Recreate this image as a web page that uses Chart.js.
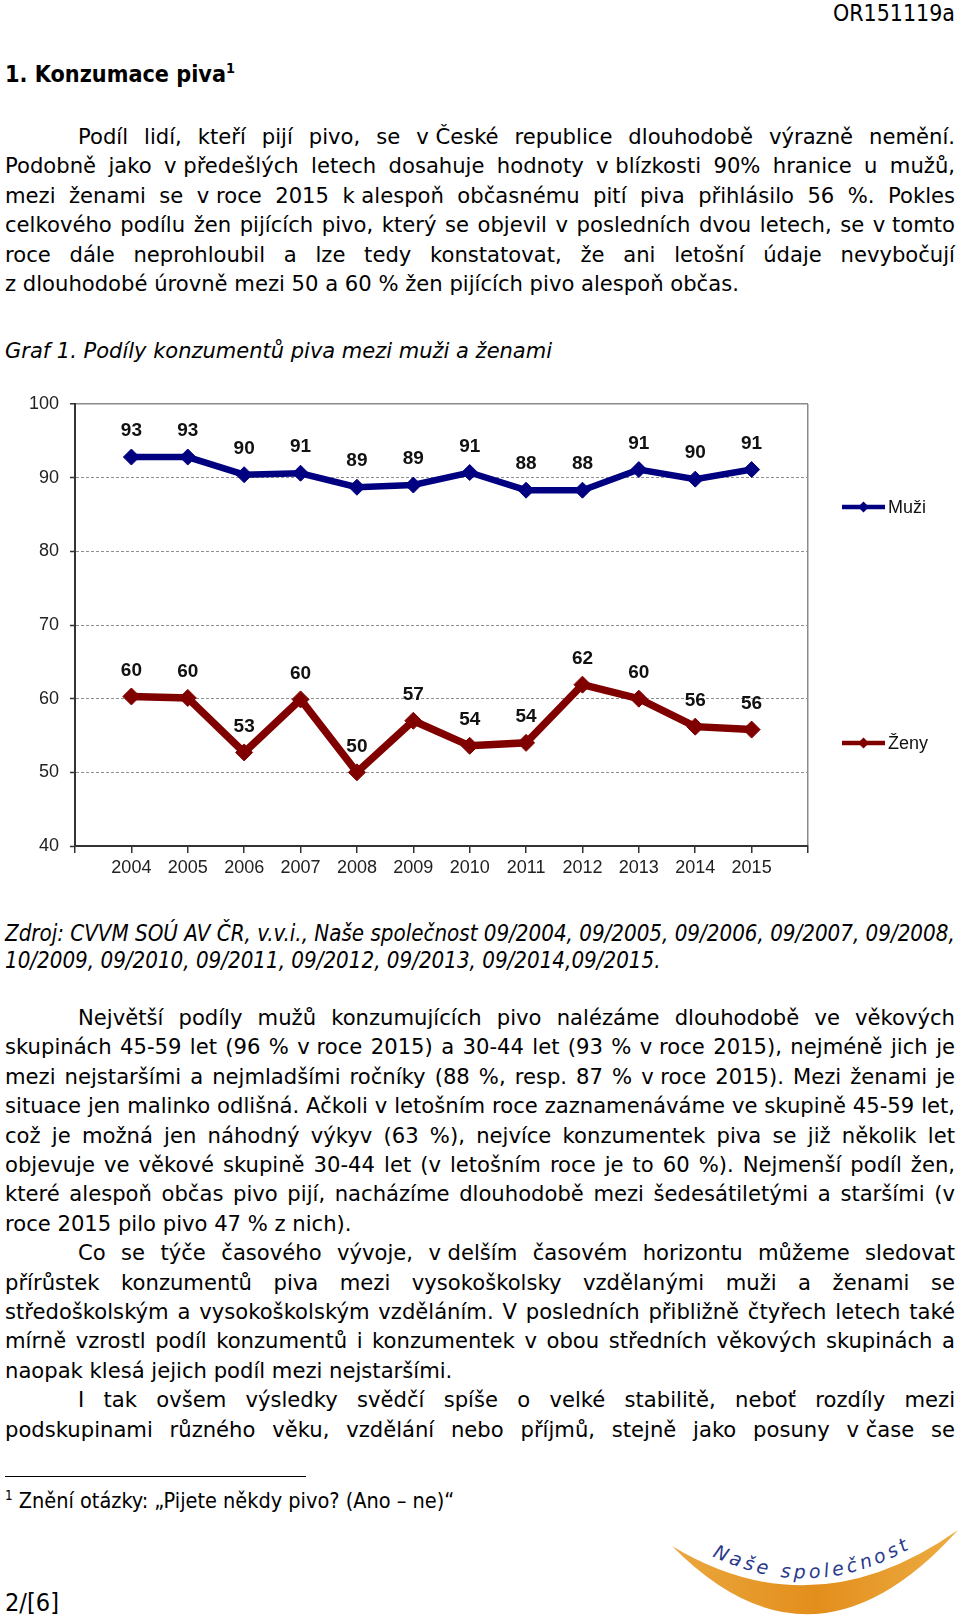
<!DOCTYPE html>
<html lang="cs">
<head>
<meta charset="utf-8">
<script src="https://cdn.jsdelivr.net/npm/chart.js@4.4.1/dist/chart.umd.min.js"></script>
<style>
  html, body { margin: 0; padding: 0; background: #fff; }
  #page { position: relative; width: 960px; height: 1617px; overflow: hidden; background: #fff; color: #000; }
  .abs { position: absolute; }
  .cond { font-family: "DejaVu Sans Condensed", "DejaVu Sans", sans-serif; font-stretch: condensed; }
  .fit { display: inline-block; white-space: nowrap; }
  .body { font-family: "DejaVu Sans", Verdana, sans-serif; font-size: 21px; line-height: 29.4px; left: 5px; width: 950px; }
  .jl { white-space: nowrap; width: 950px; }
  .ind { padding-left: 73px; box-sizing: border-box; }
  .nb { display: inline-block; word-spacing: 0 !important; white-space: pre; }
  sup { font-size: 62%; line-height: 0; vertical-align: 0.6em; }
</style>
</head>
<body>
<div id="page">
  <div class="abs" style="right:5px; top:0px; line-height:26px;"><span class="cond fit" data-w="122" style="font-size:21px;">OR151119a</span></div>
  <div class="abs" style="left:5px; top:59px; line-height:30px;"><span class="cond fit" data-w="230" style="font-size:22px; font-weight:bold;">1. Konzumace piva<sup>1</sup></span></div>

  <div class="abs body" style="top:122px;">
    <div class="jl ind"><span class="t">Podíl lidí, kteří pijí pivo, se <span class="nb">v České</span> republice dlouhodobě výrazně nemění.</span></div>
    <div class="jl"><span class="t">Podobně jako <span class="nb">v předešlých</span> letech dosahuje hodnoty <span class="nb">v blízkosti</span> 90% hranice u mužů,</span></div>
    <div class="jl"><span class="t">mezi ženami se <span class="nb">v roce</span> 2015 <span class="nb">k alespoň</span> občasnému pití piva přihlásilo 56 %. Pokles</span></div>
    <div class="jl"><span class="t">celkového podílu žen pijících pivo, který se objevil v posledních dvou letech, se <span class="nb">v tomto</span></span></div>
    <div class="jl"><span class="t">roce dále neprohloubil a lze tedy konstatovat, že ani letošní údaje nevybočují</span></div>
    <div class="jl nj" id="fitline"><span class="t"><span class="nb">z dlouhodobé</span> úrovně mezi 50 a 60 % žen pijících pivo alespoň občas.</span></div>
  </div>

  <div class="abs" style="left:5px; top:337px; line-height:29px;"><span class="fit" data-w="547" style="font-family:'DejaVu Sans', sans-serif; font-style:italic; font-size:21px;">Graf 1. Podíly konzumentů piva mezi muži a ženami</span></div>

  <canvas id="chart" class="abs" width="960" height="510" style="left:0; top:380px; width:960px; height:510px;"></canvas>

  <div class="abs" style="left:5px; top:921px; line-height:24px; width:955px;">
    <div><span class="cond fit" id="zdroj1" data-w="950" style="font-style:italic; font-size:21px;">Zdroj: CVVM SOÚ AV ČR, v.v.i., Naše společnost 09/2004, 09/2005, 09/2006, 09/2007, 09/2008,</span></div>
    <div><span class="cond fit" data-same="zdroj1" style="font-style:italic; font-size:21px;">10/2009, 09/2010, 09/2011, 09/2012, 09/2013, 09/2014,09/2015.</span></div>
  </div>

  <div class="abs body" style="top:1003px;">
    <div class="jl ind"><span class="t">Největší podíly mužů konzumujících pivo nalézáme dlouhodobě ve věkových</span></div>
    <div class="jl"><span class="t">skupinách 45-59 let (96 % <span class="nb">v roce</span> 2015) a 30-44 let (93 % <span class="nb">v roce</span> 2015), nejméně jich je</span></div>
    <div class="jl"><span class="t">mezi nejstaršími a nejmladšími ročníky (88 %, resp. 87 % <span class="nb">v roce</span> 2015). Mezi ženami je</span></div>
    <div class="jl"><span class="t">situace jen malinko odlišná. Ačkoli v letošním roce zaznamenáváme ve skupině 45-59 let,</span></div>
    <div class="jl"><span class="t">což je možná jen náhodný výkyv (63 %), nejvíce konzumentek piva se již několik let</span></div>
    <div class="jl"><span class="t">objevuje ve věkové skupině 30-44 let (v letošním roce je to 60 %). Nejmenší podíl žen,</span></div>
    <div class="jl"><span class="t">které alespoň občas pivo pijí, nacházíme dlouhodobě mezi šedesátiletými a staršími (v</span></div>
    <div class="jl nj"><span class="t">roce 2015 pilo pivo 47 % z nich).</span></div>
    <div class="jl ind"><span class="t">Co se týče časového vývoje, <span class="nb">v delším</span> časovém horizontu můžeme sledovat</span></div>
    <div class="jl"><span class="t">přírůstek konzumentů piva mezi vysokoškolsky vzdělanými muži a ženami se</span></div>
    <div class="jl"><span class="t">středoškolským a vysokoškolským vzděláním. V posledních přibližně čtyřech letech také</span></div>
    <div class="jl"><span class="t">mírně vzrostl podíl konzumentů i konzumentek v obou středních věkových skupinách a</span></div>
    <div class="jl nj"><span class="t">naopak klesá jejich podíl mezi nejstaršími.</span></div>
    <div class="jl ind"><span class="t">I tak ovšem výsledky svědčí spíše o velké stabilitě, neboť rozdíly mezi</span></div>
    <div class="jl"><span class="t">podskupinami různého věku, vzdělání nebo příjmů, stejně jako posuny <span class="nb">v čase</span> se</span></div>
  </div>

  <div class="abs" style="left:5px; top:1476px; width:301px; height:1px; background:#000;"></div>
  <div class="abs" style="left:5px; top:1489px; line-height:24px;"><span class="cond fit" data-w="449" style="font-size:19px;"><sup>1</sup> Znění otázky: „Pijete někdy pivo? (Ano – ne)“</span></div>
  <div class="abs" style="left:5px; top:1590px; line-height:26px;"><span class="cond fit" data-w="54" style="font-size:22px;">2/[6]</span></div>

  <svg class="abs" style="left:660px; top:1510px;" width="300" height="107" viewBox="0 0 300 107">
    <defs>
      <linearGradient id="og" x1="0" y1="0" x2="1" y2="0">
        <stop offset="0" stop-color="#EBA83E"/>
        <stop offset="0.5" stop-color="#E38E1C"/>
        <stop offset="1" stop-color="#EDAC42"/>
      </linearGradient>
      <path id="tp" d="M52,46 Q155,96 258,34"/>
    </defs>
    <path d="M12,36 Q154,180 298,20 Q154,122 12,36 Z" fill="url(#og)"/>
    <text font-family="'DejaVu Sans', sans-serif" font-style="italic" font-size="19" fill="#2A3A8C" letter-spacing="2">
      <textPath href="#tp" textLength="208">Naše společnost</textPath>
    </text>
  </svg>
</div>

<script>
// ---- data ----
const years = [2004, 2005, 2006, 2007, 2008, 2009, 2010, 2011, 2012, 2013, 2014, 2015];
const seriesNames = ['Muži', 'Ženy'];
const muzi = [92.8, 92.8, 90.4, 90.6, 88.7, 89.0, 90.7, 88.3, 88.3, 91.1, 89.8, 91.1];
const zeny = [60.3, 60.1, 52.7, 59.9, 50.0, 57.0, 53.6, 54.0, 61.9, 60.0, 56.2, 55.8];
const yMin = 40, yMax = 100, yStep = 10;
const xMin = 2003, xMax = 2016;

const FONT = '"Liberation Sans", Arial, sans-serif';

const valueLabels = {
  id: 'valueLabels',
  afterDatasetsDraw(chart) {
    const ctx = chart.ctx;
    ctx.save();
    ctx.font = 'bold 19px ' + FONT;
    ctx.fillStyle = '#111';
    ctx.textAlign = 'center';
    ctx.textBaseline = 'middle';
    chart.data.datasets.forEach((ds, i) => {
      chart.getDatasetMeta(i).data.forEach((pt, j) => {
        ctx.fillText(String(Math.round(ds.data[j].y)), pt.x, pt.y - 26);
      });
    });
    ctx.restore();
  }
};

const sideLegend = {
  id: 'sideLegend',
  afterDraw(chart, args, opts) {
    const ctx = chart.ctx;
    ctx.save();
    chart.data.datasets.forEach((ds, i) => {
      const y = opts.rows[i];
      ctx.strokeStyle = ds.borderColor;
      ctx.lineWidth = 4.5;
      ctx.beginPath();
      ctx.moveTo(opts.x0, y);
      ctx.lineTo(opts.x1, y);
      ctx.stroke();
      const cx = (opts.x0 + opts.x1) / 2;
      ctx.fillStyle = ds.borderColor;
      ctx.beginPath();
      ctx.moveTo(cx, y - 5.5); ctx.lineTo(cx + 5.5, y); ctx.lineTo(cx, y + 5.5); ctx.lineTo(cx - 5.5, y);
      ctx.closePath(); ctx.fill();
      ctx.fillStyle = '#111';
      ctx.font = '18px ' + FONT;
      ctx.textAlign = 'left';
      ctx.textBaseline = 'middle';
      ctx.fillText(ds.label, opts.x1 + 3, y + 1);
    });
    ctx.restore();
  }
};

function makeDs(label, vals, color, width, radius) {
  return {
    label,
    data: years.map((yr, i) => ({ x: yr, y: vals[i] })),
    borderColor: color,
    backgroundColor: color,
    borderWidth: width,
    pointStyle: 'rectRot',
    pointRadius: radius,
    pointBorderWidth: 1,
    pointBackgroundColor: color,
    pointBorderColor: color,
    tension: 0
  };
}

new Chart(document.getElementById('chart'), {
  type: 'line',
  data: {
    datasets: [
      makeDs(seriesNames[0], muzi, '#000080', 6.5, 8),
      makeDs(seriesNames[1], zeny, '#800000', 7.5, 8.5)
    ]
  },
  options: {
    responsive: false,
    animation: false,
    devicePixelRatio: 1,
    layout: { padding: { left: 0, top: 24, right: 152, bottom: 0 } },
    plugins: {
      legend: { display: false },
      tooltip: { enabled: false },
      sideLegend: { x0: 842, x1: 885, rows: [127, 363] }
    },
    scales: {
      x: {
        type: 'linear',
        min: xMin, max: xMax,
        afterBuildTicks: s => { s.ticks = []; for (let v = xMin; v <= xMax; v++) s.ticks.push({ value: v }); },
        afterFit: s => { s.height = 44; },
        ticks: {
          autoSkip: false, maxRotation: 0, padding: 4,
          font: { family: FONT, size: 18 }, color: '#222',
          callback: v => years.includes(v) ? String(v) : ''
        },
        grid: {
          drawOnChartArea: true,
          color: c => (c.tick && c.tick.value === xMax) ? '#8a8a8a' : 'rgba(0,0,0,0)',
          lineWidth: 1.5,
          tickColor: '#333', tickWidth: 1.5, tickLength: 7
        },
        border: { color: '#333', width: 2 }
      },
      y: {
        min: yMin, max: yMax,
        afterFit: s => { s.width = 75; },
        ticks: { stepSize: yStep, padding: 11, font: { family: FONT, size: 18 }, color: '#222' },
        grid: {
          color: c => (c.tick && c.tick.value === yMax) ? '#8a8a8a' : '#8f8f8f',
          lineWidth: c => (c.tick && c.tick.value === yMax) ? 1.5 : 1,
          tickColor: '#333', tickWidth: 1.5, tickLength: 5
        },
        border: { color: '#333', width: 2, dash: c => (c.tick && c.tick.value === yMax) ? [] : [3, 2] }
      }
    }
  },
  plugins: [valueLabels, sideLegend]
});

function fitTexts() {
  document.querySelectorAll('.fit[data-w]').forEach(el => {
    const cur = parseFloat(getComputedStyle(el).fontSize);
    const w = el.getBoundingClientRect().width;
    const target = parseFloat(el.dataset.w);
    if (w > 0) el.style.fontSize = (cur * target / w).toFixed(2) + 'px';
  });
  document.querySelectorAll('.fit[data-same]').forEach(el => {
    el.style.fontSize = getComputedStyle(document.getElementById(el.dataset.same)).fontSize;
  });
}

function justifyLines() {
  const fit = document.getElementById('fitline').firstElementChild;
  const body0 = document.querySelector('.body');
  const cur = parseFloat(getComputedStyle(body0).fontSize);
  const w0 = fit.getBoundingClientRect().width;
  const fs = cur * 734 / w0;
  document.querySelectorAll('.body').forEach(b => b.style.fontSize = fs.toFixed(2) + 'px');
  document.querySelectorAll('.jl').forEach(line => {
    if (line.classList.contains('nj')) return;
    line.style.wordSpacing = '0px';
    const inner = line.firstElementChild;
    const r = inner.getBoundingClientRect();
    const avail = line.getBoundingClientRect().right - r.left;
    let n = 0;
    const walker = document.createTreeWalker(inner, NodeFilter.SHOW_TEXT);
    while (walker.nextNode()) {
      const t = walker.currentNode;
      if (t.parentElement.closest('.nb')) continue;
      n += (t.nodeValue.match(/ /g) || []).length;
    }
    if (n > 0) line.style.wordSpacing = ((avail - r.width) / n) + 'px';
  });
}
function layoutText() { fitTexts(); justifyLines(); }
layoutText();
if (document.fonts && document.fonts.ready) document.fonts.ready.then(layoutText);
</script>
</body>
</html>
